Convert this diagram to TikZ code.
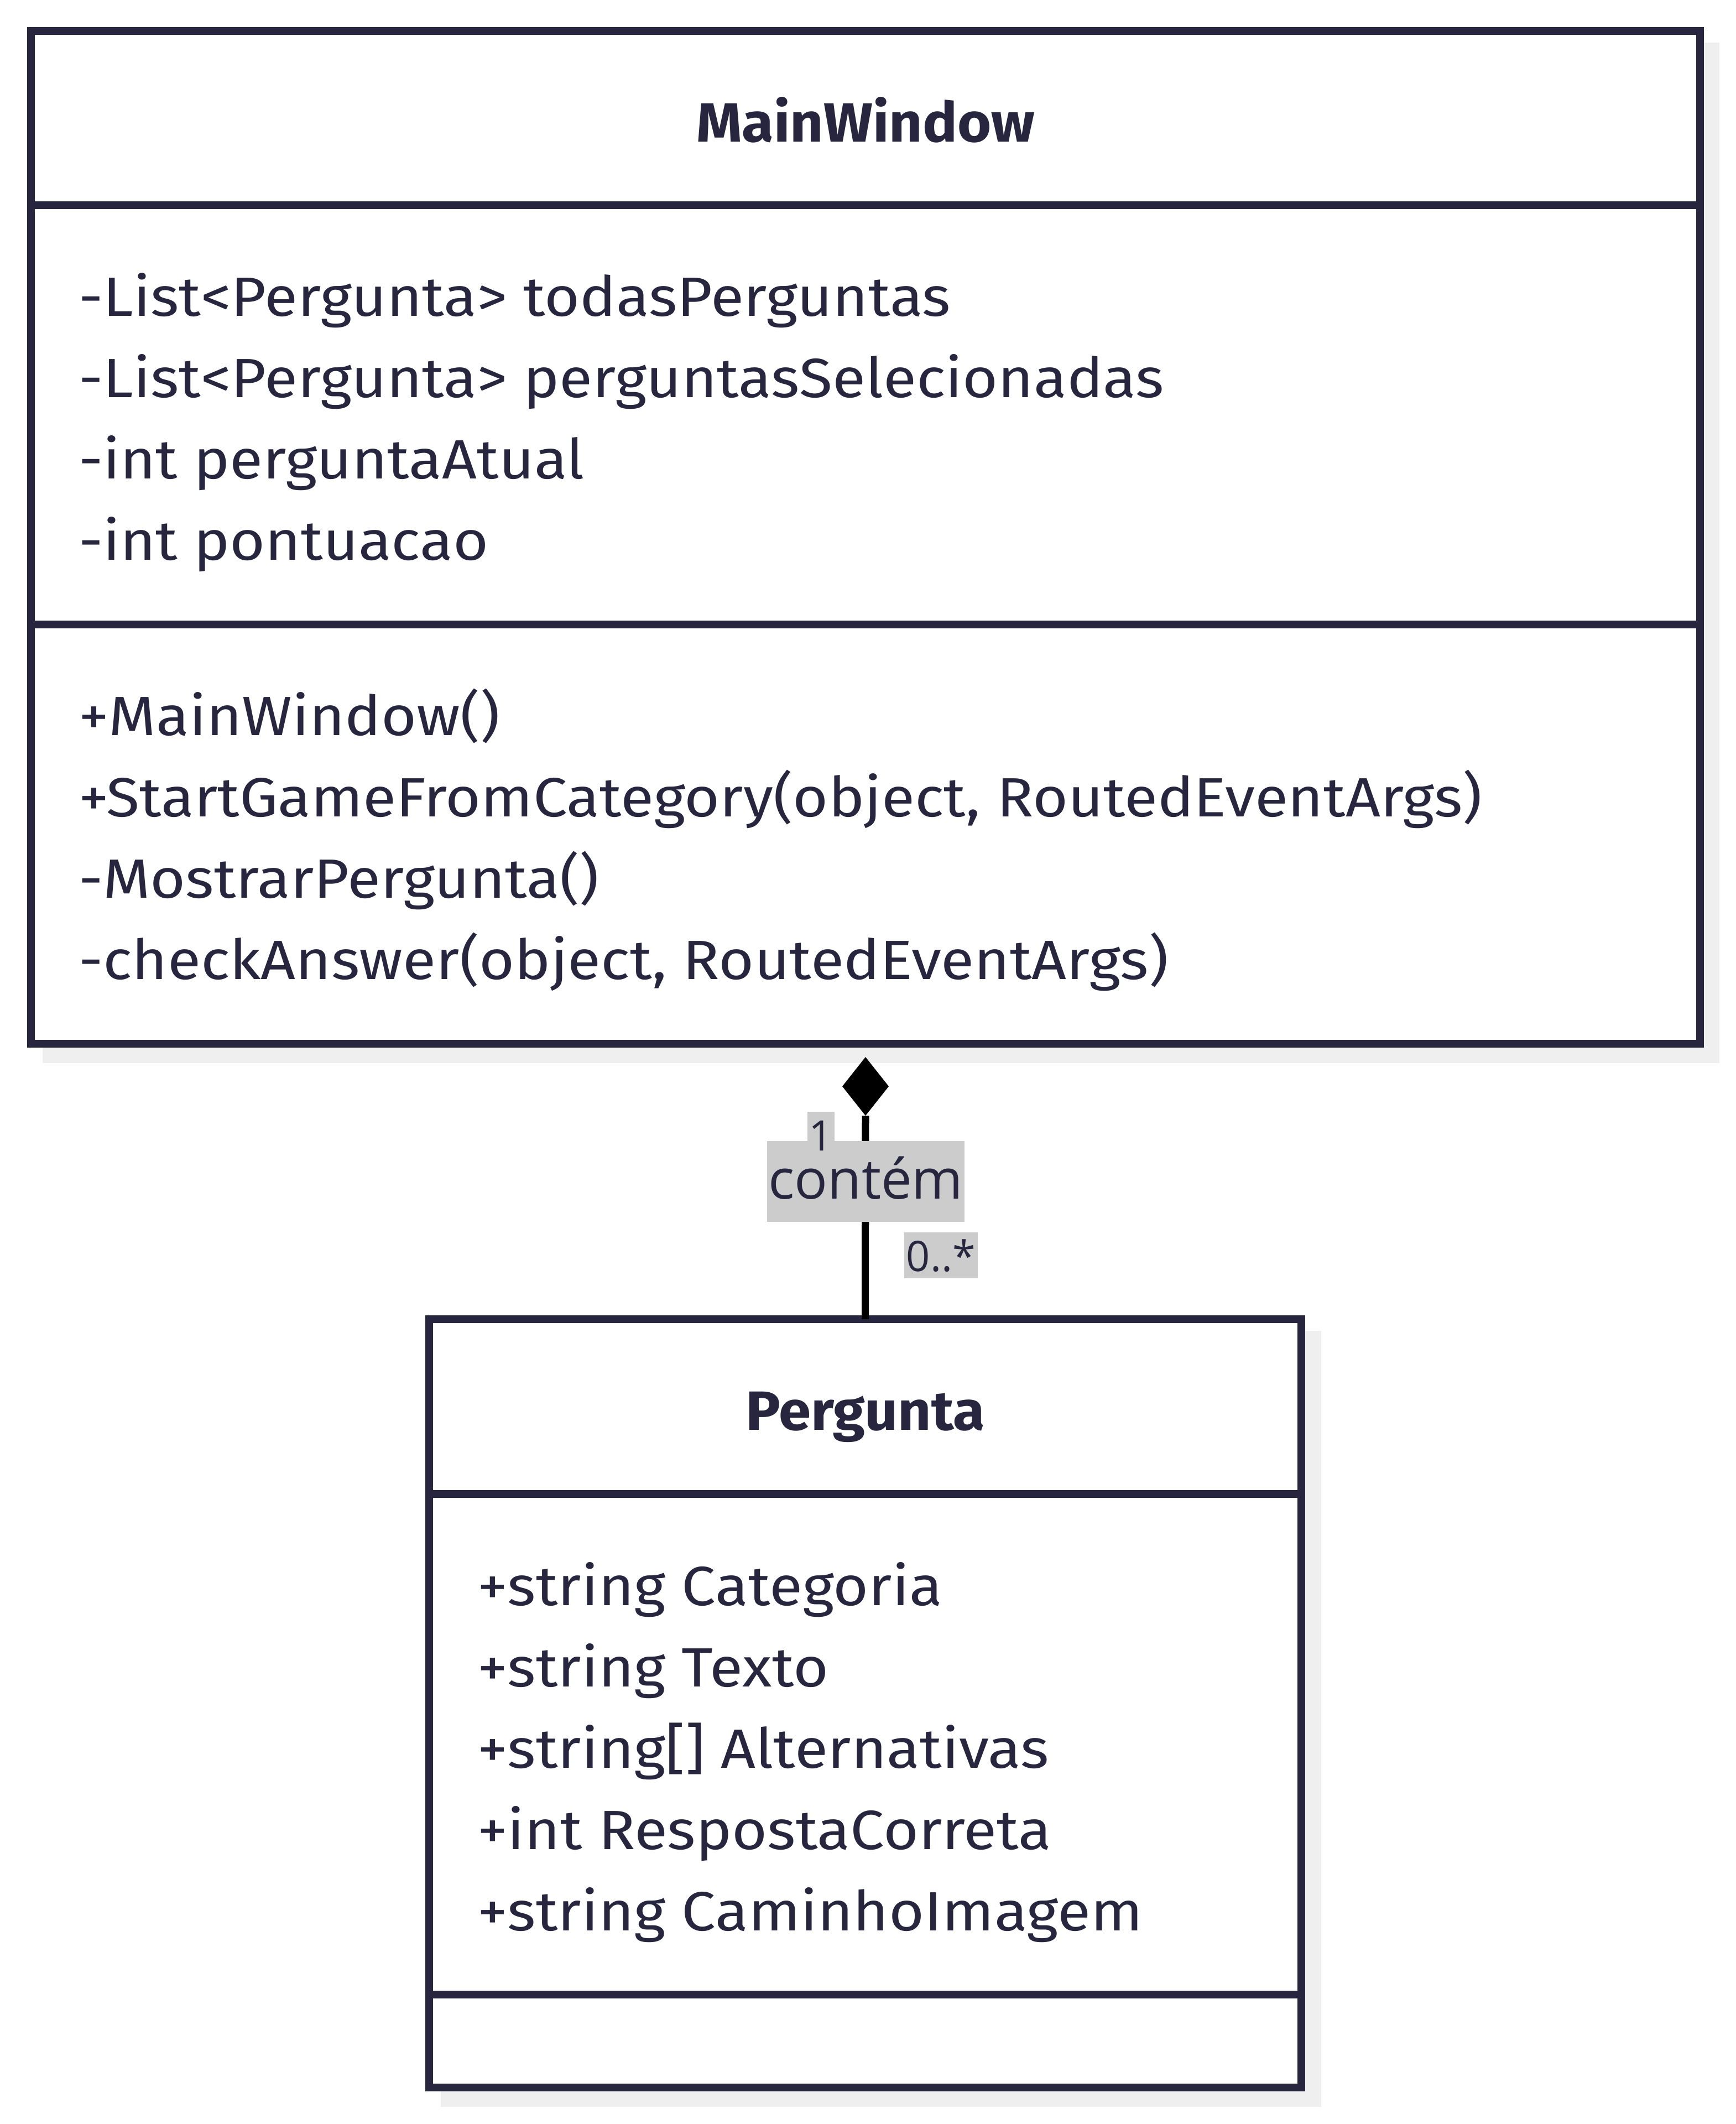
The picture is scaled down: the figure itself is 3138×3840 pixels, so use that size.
\documentclass[tikz,border=0pt]{standalone}
\usepackage{fontspec}
\usetikzlibrary{shapes.geometric}
\setmainfont{Fira Sans}
\newdimen\pxu \pxu=0.2pt
\newfontfamily\probeA{Fira Sans}
\newfontfamily\probeB{Open Sans}
\setbox0=\hbox{\probeA\fontsize{20pt}{24pt}\selectfont +StartGameFromCategory(object, RoutedEventArgs)}
\pgfmathsetmacro\sbody{507.6/\the\wd0}
\setbox0=\hbox{\probeA\bfseries\fontsize{20pt}{24pt}\selectfont MainWindow}
\pgfmathsetmacro\stitle{122.4/\the\wd0}
\setbox0=\hbox{\probeB\fontsize{20pt}{24pt}\selectfont contém}
\pgfmathsetmacro\slabel{70.4/\the\wd0}
\edef\tmp{\noexpand\newfontfamily\noexpand\bodyfont[FakeStretch=\sbody]{Fira Sans}}\tmp
\edef\tmp{\noexpand\newfontfamily\noexpand\titlefont[FakeStretch=\stitle]{Fira Sans}}\tmp
\edef\tmp{\noexpand\newfontfamily\noexpand\labelfont[FakeStretch=\slabel]{Open Sans}}\tmp
\definecolor{ink}{HTML}{28263E}
\definecolor{shadowc}{HTML}{EFEFEF}
\definecolor{lblgrey}{HTML}{CCCCCC}
\tikzset{
  classbox/.style={draw=ink, line width=13.5\pxu, fill=white, inner sep=0pt, outer sep=0pt},
  shadowfill/.style={fill=shadowc},
  divider/.style={draw=ink, line width=13.5\pxu},
  bodytext/.style={font=\bodyfont\fontsize{20pt}{24pt}\selectfont, text=ink, inner sep=0pt, anchor=base west},
  titletext/.style={font=\titlefont\bfseries\fontsize{20pt}{24pt}\selectfont, text=ink, inner sep=0pt, anchor=base},
  conn/.style={draw=black, line width=13\pxu},
  dmdshape/.style={diamond, fill=black, draw=none, inner sep=0pt, outer sep=0pt, minimum width=84\pxu, minimum height=106\pxu},
  lblbox/.style={fill=lblgrey, text=ink, inner sep=0pt, anchor=base, font=\labelfont\fontsize{20pt}{24pt}\selectfont},
  multbox/.style={fill=lblgrey, text=ink, inner sep=0pt, anchor=base, text height=70\pxu, text depth=13\pxu, font=\labelfont\fontsize{15.2pt}{18pt}\selectfont}
}
\begin{document}
\begin{tikzpicture}[x=0.2pt,y=-0.2pt]
\fill[white] (0,0) rectangle (3138,3840);
\useasboundingbox (0,0) rectangle (3138,3840);
% shadows
\fill[shadowfill] (77,77) rectangle (3109,1922);
\fill[shadowfill] (797,2406) rectangle (2389,3809);
% MainWindow
\node[classbox, minimum width=3018\pxu, minimum height=1831\pxu] (mw) at (1565,971.5) {};
\draw[divider] (56,371) -- (3074,371);
\draw[divider] (56,1129) -- (3074,1129);
\node[titletext] (mwt) at (1565,256) {MainWindow};
\node[bodytext] (mwa1) at (141,571) {-List<Pergunta> todasPerguntas};
\node[bodytext] (mwa2) at (141,718) {-List<Pergunta> perguntasSelecionadas};
\node[bodytext] (mwa3) at (141,865) {-int perguntaAtual};
\node[bodytext] (mwa4) at (141,1012) {-int pontuacao};
\node[bodytext] (mwm1) at (141,1329) {+MainWindow()};
\node[bodytext] (mwm2) at (141,1476) {+StartGameFromCategory(object, RoutedEventArgs)};
\node[bodytext] (mwm3) at (141,1623) {-MostrarPergunta()};
\node[bodytext] (mwm4) at (141,1770) {-checkAnswer(object, RoutedEventArgs)};
% Pergunta
\node[classbox, minimum width=1577\pxu, minimum height=1389\pxu] (pg) at (1564.5,3079.5) {};
\draw[divider] (776,2701) -- (2353,2701);
\draw[divider] (776,3606) -- (2353,3606);
\node[titletext] (pgt) at (1564.5,2585) {Pergunta};
\node[bodytext] (pga1) at (862,2902) {+string Categoria};
\node[bodytext] (pga2) at (862,3049) {+string Texto};
\node[bodytext] (pga3) at (862,3196) {+string[] Alternativas};
\node[bodytext] (pga4) at (862,3343) {+int RespostaCorreta};
\node[bodytext] (pga5) at (862,3490) {+string CaminhoImagem};
% composition connector
\node[dmdshape] (dmd) at (1565,1964) {};
\draw[conn] (dmd.south) -- (pg.north);
\node[lblbox, text height=104\pxu, text depth=42\pxu, minimum width=357\pxu] (lc) at (1565.5,2167) {contém};
\node[multbox, minimum width=49\pxu] (m1) at (1484.5,2080) {1};
\node[multbox, minimum width=133\pxu] (m2) at (1701.5,2298) {0..*};
\end{tikzpicture}
\end{document}
